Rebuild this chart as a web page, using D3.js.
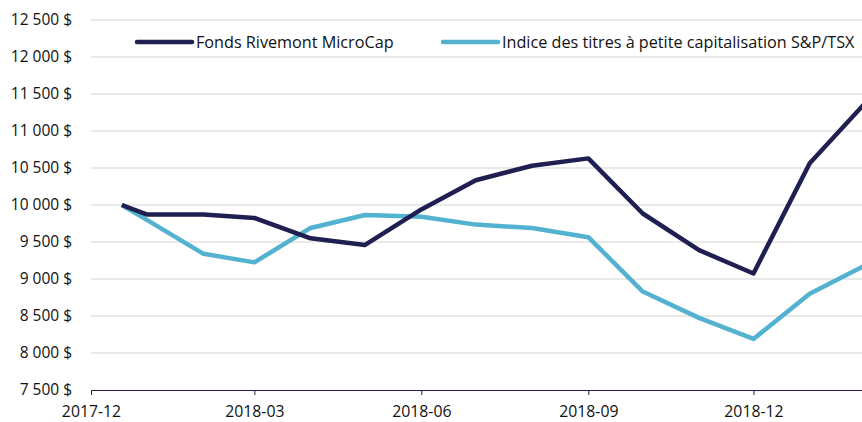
<!DOCTYPE html>
<html>
<head>
<meta charset="utf-8">
<script src="https://cdn.jsdelivr.net/npm/d3@7"></script>
<style>
  body { margin: 0; background: #fff; }
  text { font-family: "Open Sans", sans-serif; fill: #111; }
</style>
</head>
<body>
<div id="chart-area"></div>
<script>
// data
const dates = ["2017-12-18", "2018-01-01", "2018-02-01", "2018-03-01", "2018-04-01", "2018-05-01",
  "2018-06-01", "2018-07-01", "2018-08-01", "2018-09-01", "2018-10-01", "2018-11-01",
  "2018-12-01", "2019-01-01", "2019-02-01"];
const fondsValues = [10000, 9870, 9870, 9825, 9550, 9460, 9940, 10335, 10530, 10630, 9885, 9390, 9075, 10565, 11390];
const indiceValues = [10000, 9795, 9340, 9225, 9690, 9865, 9840, 9735, 9690, 9565, 8830, 8475, 8190, 8800, 9190];
const xTickLabels = ["2017-12", "2018-03", "2018-06", "2018-09", "2018-12"];
const yTicks = [7500, 8000, 8500, 9000, 9500, 10000, 10500, 11000, 11500, 12000, 12500];
const seriesNames = ["Fonds Rivemont MicroCap", "Indice des titres à petite capitalisation S&P/TSX"];
const colors = ["#1f1f52", "#52b2cf"];

const margin = { top: 20, right: 0, bottom: 32, left: 91 };
const width = 775;
const height = 370;

const parseDay = d3.timeParse("%Y-%m-%d");
const parseMonth = d3.timeParse("%Y-%m");

const svg = d3.select("#chart-area")
  .append("svg")
    .attr("width", 862)
    .attr("height", 422);

const g = svg.append("g")
    .attr("transform", `translate(${margin.left}, ${margin.top})`);

const x = d3.scaleTime()
  .domain([parseMonth("2017-12"), parseMonth("2019-02")])
  .range([0, width]);

const y = d3.scaleLinear()
  .domain([7500, 12500])
  .range([height, 0]);

// gridlines
g.selectAll("line.grid")
  .data(yTicks.slice(1))
  .enter().append("line")
    .attr("class", "grid")
    .attr("x1", 0)
    .attr("x2", width)
    .attr("y1", d => y(d))
    .attr("y2", d => y(d))
    .attr("stroke", "#d3d3d3")
    .attr("stroke-width", 1.2);

// y axis labels
const fmt = d => d3.format(",")(d).replace(",", " ") + " $";
const yAxisGroup = g.append("g")
  .call(d3.axisLeft(y).tickValues(yTicks).tickFormat(fmt).tickSize(0).tickPadding(19));
yAxisGroup.select(".domain").remove();
yAxisGroup.selectAll("text")
  .attr("font-size", "15.5px")
  .attr("font-family", "Open Sans, sans-serif")
  .attr("fill", "#111");

// x axis
const xAxisGroup = g.append("g")
  .attr("transform", `translate(0, ${height})`)
  .call(d3.axisBottom(x)
    .tickValues(xTickLabels.map(parseMonth))
    .tickFormat(d3.timeFormat("%Y-%m"))
    .tickSize(5)
    .tickSizeOuter(0)
    .tickPadding(11));
xAxisGroup.select(".domain").attr("stroke", "#1f1f52");
xAxisGroup.selectAll(".tick line").attr("stroke", "#1f1f52");
xAxisGroup.selectAll("text")
  .attr("font-size", "15.8px")
  .attr("font-family", "Open Sans, sans-serif")
  .attr("fill", "#111");

// lines
const line = d3.line()
  .x((d, i) => x(parseDay(dates[i])))
  .y(d => y(d));

[indiceValues, fondsValues].forEach((vals, k) => {
  g.append("path")
    .datum(vals)
    .attr("fill", "none")
    .attr("stroke", k === 0 ? colors[1] : colors[0])
    .attr("stroke-width", 4.5)
    .attr("stroke-linejoin", "round")
    .attr("d", line);
});

// legend
const legendX = [137, 443];
seriesNames.forEach((name, i) => {
  svg.append("line")
    .attr("x1", legendX[i])
    .attr("x2", legendX[i] + 55)
    .attr("y1", 42)
    .attr("y2", 42)
    .attr("stroke", colors[i])
    .attr("stroke-width", 4.5)
    .attr("stroke-linecap", "round");
  svg.append("text")
    .attr("x", legendX[i] + 59)
    .attr("y", 47.5)
    .attr("font-size", "16.2px")
    .text(name);
});
</script>
</body>
</html>
